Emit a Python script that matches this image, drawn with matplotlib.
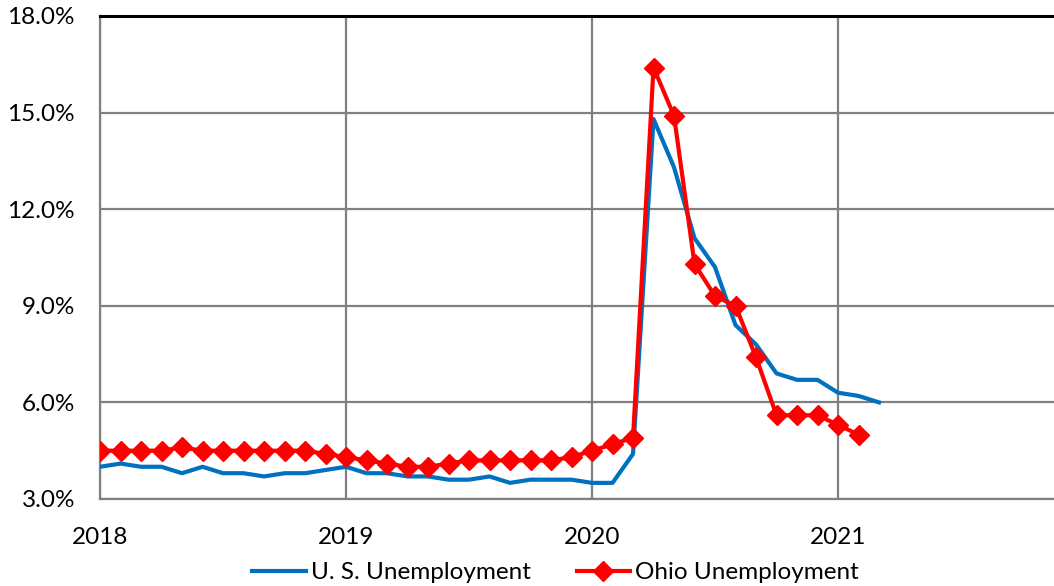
"""Ohio vs U.S. unemployment rate, monthly 2018-2021."""

import matplotlib
matplotlib.use("Agg")
import matplotlib.pyplot as plt
import numpy as np
from matplotlib.ticker import FuncFormatter

# Monthly values starting January 2018
START_YEAR = 2018
US_RATE = [4.0, 4.1, 4.0, 4.0, 3.8, 4.0, 3.8, 3.8, 3.7, 3.8, 3.8, 3.9,
           4.0, 3.8, 3.8, 3.7, 3.7, 3.6, 3.6, 3.7, 3.5, 3.6, 3.6, 3.6,
           3.5, 3.5, 4.4, 14.8, 13.3, 11.1, 10.2, 8.4, 7.8, 6.9, 6.7, 6.7,
           6.3, 6.2, 6.0]
OHIO_RATE = [4.5, 4.5, 4.5, 4.5, 4.6, 4.5, 4.5, 4.5, 4.5, 4.5, 4.5, 4.4,
             4.3, 4.2, 4.1, 4.0, 4.0, 4.1, 4.2, 4.2, 4.2, 4.2, 4.2, 4.3,
             4.5, 4.7, 4.9, 16.4, 14.9, 10.3, 9.3, 9.0, 7.4, 5.6, 5.6, 5.6,
             5.3, 5.0]
YEAR_TICKS = [2018, 2019, 2020, 2021]
RATE_TICKS = [3.0, 6.0, 9.0, 12.0, 15.0, 18.0]
LABELS = ["U. S. Unemployment", "Ohio Unemployment"]

plt.rcParams['font.family'] = ['Lato', 'DejaVu Sans']

fig = plt.figure(figsize=(10.54, 5.86), dpi=100)
ax = fig.add_axes([0.0949, 0.1485, 0.9051, 0.8242])

us_x = START_YEAR + np.arange(len(US_RATE)) / 12
oh_x = START_YEAR + np.arange(len(OHIO_RATE)) / 12

ax.plot(us_x, US_RATE, color='#0070C0', linewidth=3.0, label=LABELS[0], zorder=3)
ax.plot(oh_x, OHIO_RATE, color='#FF0000', linewidth=3.0, marker='D',
        markersize=10.5, label=LABELS[1], zorder=4)

ax.set_xlim(2018, 2021.878)
ax.set_ylim(3.0, 18.0)
ax.set_xticks(YEAR_TICKS)
ax.set_yticks(RATE_TICKS)
ax.yaxis.set_major_formatter(FuncFormatter(lambda v, p: f'{v:.1f}%'))
ax.tick_params(axis='both', length=0, labelsize=17.5, colors='black')
ax.tick_params(axis='x', pad=20)
ax.tick_params(axis='y', pad=18)

ax.grid(True, color='#808080', linewidth=1.6)
ax.set_axisbelow(True)

for side in ['left', 'bottom']:
    ax.spines[side].set_color('#808080')
    ax.spines[side].set_linewidth(1.6)
ax.spines['top'].set_color('black')
ax.spines['top'].set_linewidth(2.2)
ax.spines['right'].set_visible(False)

fig.legend(loc='lower center', bbox_to_anchor=(0.527, -0.033), ncol=2,
           frameon=False, fontsize=17.5, handlelength=2.2, handletextpad=0.2,
           columnspacing=1.9)

fig.savefig('out.png', dpi=100, facecolor='white')
plt.close(fig)
